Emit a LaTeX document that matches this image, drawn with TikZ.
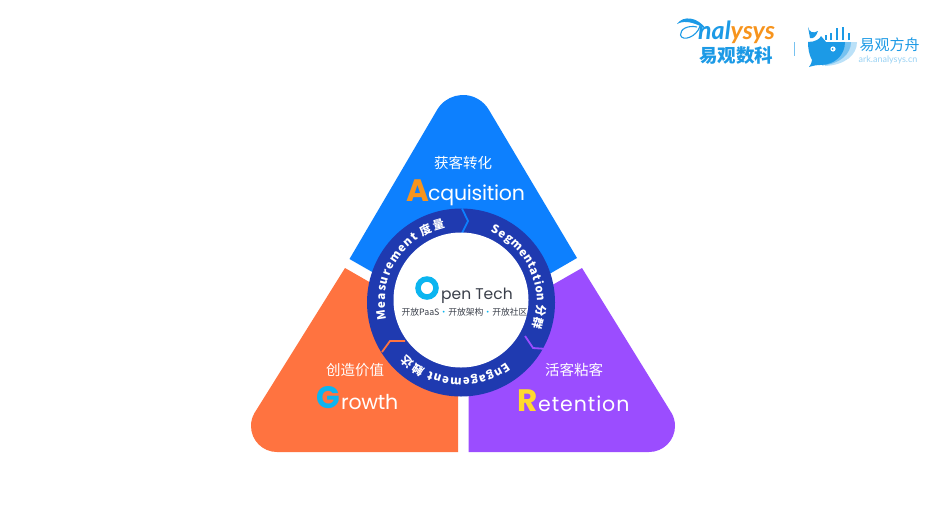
\documentclass[tikz,border=0pt]{standalone}
\usepackage{fontspec}
\usetikzlibrary{decorations.text}
\setmainfont{Poppins}
\newfontfamily\cjk{Noto Sans CJK SC}
\newfontfamily\latn{Poppins}
\newfontfamily\logof{Lato}
\definecolor{cblue}{HTML}{0D80FE}
\definecolor{corange}{HTML}{FF7340}
\definecolor{cpurple}{HTML}{9B4DFF}
\definecolor{cring}{HTML}{1F3AB0}
\definecolor{lgblue}{HTML}{1C9AE6}
\definecolor{lgorange}{HTML}{F7941D}
\definecolor{ccyan}{HTML}{0BB5F0}
\definecolor{cyel}{HTML}{FFD92E}
\definecolor{ctext}{HTML}{3A3F4A}
\tikzset{
  sub/.style={text=white,font=\cjk\fontsize{14.5}{16}\selectfont,inner sep=0pt},
  head/.style={text=white,font=\latn\fontsize{20.5}{26}\selectfont,inner sep=0pt,anchor=base west},
  big/.style={font=\latn\bfseries\fontsize{31}{36}\selectfont,inner sep=0pt,anchor=base west},
  ringtext/.style={decorate,decoration={text along path,text align={fit to path},
    text={|\color{white}\cjk\bfseries\fontsize{11.6}{13}\selectfont|#1}}},
  chev/.style={line width=1.8pt,line join=miter},
}
\begin{document}
\begin{tikzpicture}[x=1pt,y=-1pt]
\useasboundingbox (0,0) rectangle (947,507);
\fill[white] (0,0) rectangle (947,507);
% triangles
\fill[cblue] (349.5,259) -- (437,110) arc[start angle=-150,end angle=-30,radius=30] -- (577,258) -- (463,324) -- cycle;
\fill[corange] (345,268) -- (458,333) -- (458,452) -- (277,452) arc[start angle=90,end angle=210,radius=26] -- cycle;
\fill[cpurple] (582,268) -- (468.5,333) -- (468.5,452) -- (649,452) arc[start angle=90,end angle=-30,radius=26] -- cycle;
% ring
\fill[cring] (461,302.5) circle[radius=94];
\draw[chev,cblue] (462,208.5) -- (468,221) -- (462,233);
\draw[chev,corange] (382,352) -- (390,341) -- (405,341);
\draw[chev,cpurple] (525,336) -- (533,348) -- (547,349);
\fill[white] (461,300) circle[radius=67.5];
% ring labels
\path[shift={(461,302)},ringtext={Measurement 度量 }] (167:76) arc[start angle=167,end angle=258,radius=76];
\path[shift={(461,302)},ringtext={Segmentation 分群 }] (-67:76) arc[start angle=-67,end angle=20,radius=76];
\path[shift={(461,302)},ringtext={Engagement 触达 }] (53:76) arc[start angle=53,end angle=136,radius=76];
% labels
\node[sub] (s1) at (463,163) {获客转化};
\node[big,text=lgorange] (a1) at (406,201) {A};
\node[head] (a2) at (428,200) {\addfontfeature{LetterSpace=-1.2}cquisition};
\node[sub] (s2) at (355,370) {创造价值};
\node[big,text=ccyan] (g1) at (316,408) {G};
\node[head] (g2) at (341,409) {\addfontfeature{LetterSpace=-1.5}rowth};
\node[sub] (s3) at (574,370) {活客粘客};
\node[big,text=cyel] (r1) at (517,411) {R};
\node[head] (r2) at (538,411) {\addfontfeature{LetterSpace=4.5}etention};
\draw[ccyan,line width=5.5pt] (427,288) circle[radius=9];
\node[inner sep=0pt,anchor=base west,text=ctext,font=\latn\fontsize{15.5}{20}\selectfont] (ot) at (441,299) {pen Tech};
\node[inner sep=0pt,text=ctext,font=\cjk\fontsize{8.8}{11}\selectfont] (os) at (464.5,312) {开放PaaS{\color{ccyan}·}开放架构{\color{ccyan}·}开放社区};
% logo left
\node[inner sep=0pt,anchor=base west,font=\logof\bfseries\itshape\fontsize{25}{26}\selectfont] (ly) at (698,39) {\textcolor{lgblue}{nal}\textcolor{lgorange}{ysys}};
\fill[lgblue] (677,24) .. controls (683,15) and (698,17) .. (706,29) .. controls (697,24) and (686,19) .. (677,24) -- cycle;
\draw[lgblue,line width=1.1pt] (700,26) .. controls (697,37) and (682,42) .. (680.5,35) .. controls (680,29) and (688,25) .. (697,27);
\node[inner sep=0pt,text=lgblue,font=\cjk\bfseries\fontsize{18.5}{20}\selectfont] (lc) at (736,56) {易观数科};
\draw[lgblue!60,line width=0.7pt] (794,42) -- (794,56);
% whale
\fill[lgblue!30] (826,42) -- (857,42) .. controls (857,55) and (845,65) .. (825,66) -- cycle;
\fill[lgblue!60] (826,42) -- (851,42) .. controls (851,54) and (840,64) .. (822,65.5) -- cycle;
\fill[lgblue] (808,42) .. controls (815,42) and (820,39) .. (821,36) -- (826,42) -- (845,42) .. controls (845,55) and (835,65) .. (820,65) .. controls (816,65) and (812,66) .. (809,67) .. controls (811,64) and (812,62) .. (812,60) .. controls (809,55) and (808,48) .. (808,42) -- cycle;
\fill[lgblue] (808,27) .. controls (809,32) and (813,34) .. (818,31) .. controls (816,37) and (813,39) .. (810,38) -- cycle;
\foreach \x/\t in {826/35,831/33,837/28,843/27,849/33}{\draw[lgblue,line width=1.7pt] (\x,40) -- (\x,\t);}
\fill[white] (833,49) circle[radius=2.6];
\fill[lgblue] (832.5,49) circle[radius=1];
\node[inner sep=0pt,text=lgblue,font=\cjk\fontsize{15}{16}\selectfont] (wc) at (889.5,45) {易观方舟};
\node[inner sep=0pt,text=lgblue!45,font=\logof\fontsize{9}{10}\selectfont] (wa) at (888,60) {ark.analysys.cn};
\end{tikzpicture}
\end{document}
